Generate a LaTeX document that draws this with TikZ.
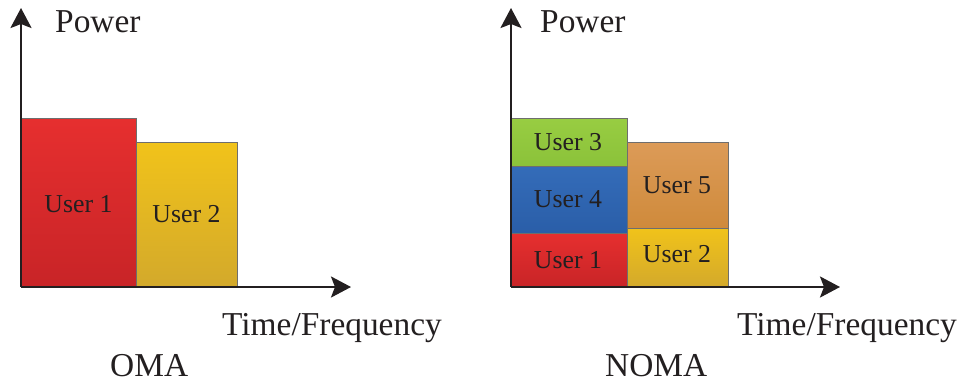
\documentclass[tikz,border=0pt]{standalone}
\usepackage{fontspec}
\setmainfont{Liberation Serif}
\usetikzlibrary{arrows.meta}
\definecolor{txt}{HTML}{231F20}
\definecolor{redT}{HTML}{E62F2F}
\definecolor{redB}{HTML}{C82427}
\definecolor{yelT}{HTML}{F1C31A}
\definecolor{yelB}{HTML}{D3A92B}
\definecolor{grnT}{HTML}{98CD42}
\definecolor{grnB}{HTML}{8BC23A}
\definecolor{bluT}{HTML}{346CB9}
\definecolor{bluB}{HTML}{2A5EA8}
\definecolor{orgT}{HTML}{DC9B58}
\definecolor{orgB}{HTML}{CF8A3B}
\definecolor{edge}{HTML}{6E6E6E}
\tikzset{
  axis/.style={line width=2.6pt, txt, -{Stealth[length=20pt,width=21pt,inset=4pt]}},
  blk/.style={draw=edge, line width=1pt},
  ulabel/.style={text=txt, font=\fontsize{25.8}{30}\selectfont, inner sep=0pt},
  biglabel/.style={text=txt, font=\fontsize{33.4}{40}\selectfont, inner sep=0pt, anchor=base west},
}
\begin{document}
\begin{tikzpicture}[x=1pt, y=-1pt]
\useasboundingbox (0,0) rectangle (964,381);

% ---- OMA ----
\coordinate (o1) at (21,287);
\coordinate (oy) at (21,8);
\coordinate (ox) at (351,287);
\fill[top color=redT, bottom color=redB] (21,118) rectangle (136,287);
\fill[top color=yelT, bottom color=yelB] (136,142) rectangle (237,287);
\draw[blk] (21,118) rectangle (136,287);
\draw[blk] (136,142) rectangle (237,287);
\node[ulabel] (u1a) at (78.5,204) {User 1};
\node[ulabel] (u2a) at (186.5,214) {User 2};
\draw[axis] (o1) -- (oy);
\draw[axis] (o1) -- (ox);
\node[biglabel] (pa) at (55,32) {Power};
\node[biglabel] (ta) at (222,335) {Time/Frequency};
\node[biglabel] (oma) at (110,376) {OMA};

% ---- NOMA ----
\coordinate (n1) at (511,287);
\coordinate (ny) at (511,8);
\coordinate (nx) at (840,287);
\fill[top color=grnT, bottom color=grnB] (511,118) rectangle (627,166);
\fill[top color=bluT, bottom color=bluB] (511,166) rectangle (627,233);
\fill[top color=redT, bottom color=redB] (511,233) rectangle (627,287);
\fill[top color=orgT, bottom color=orgB] (627,142) rectangle (728,228);
\fill[top color=yelT, bottom color=yelB] (627,228) rectangle (728,287);
\draw[blk] (511,118) rectangle (627,166);
\draw[blk] (511,166) rectangle (627,233);
\draw[blk] (511,233) rectangle (627,287);
\draw[blk] (627,142) rectangle (728,228);
\draw[blk] (627,228) rectangle (728,287);
\node[ulabel] (u3b) at (568,142) {User 3};
\node[ulabel] (u4b) at (568,199) {User 4};
\node[ulabel] (u1b) at (568,260) {User 1};
\node[ulabel] (u5b) at (677,185) {User 5};
\node[ulabel] (u2b) at (677,254) {User 2};
\draw[axis] (n1) -- (ny);
\draw[axis] (n1) -- (nx);
\node[biglabel] (pb) at (540,32) {Power};
\node[biglabel] (tb) at (737,335) {Time/Frequency};
\node[biglabel] (noma) at (605,376) {NOMA};
\end{tikzpicture}
\end{document}
